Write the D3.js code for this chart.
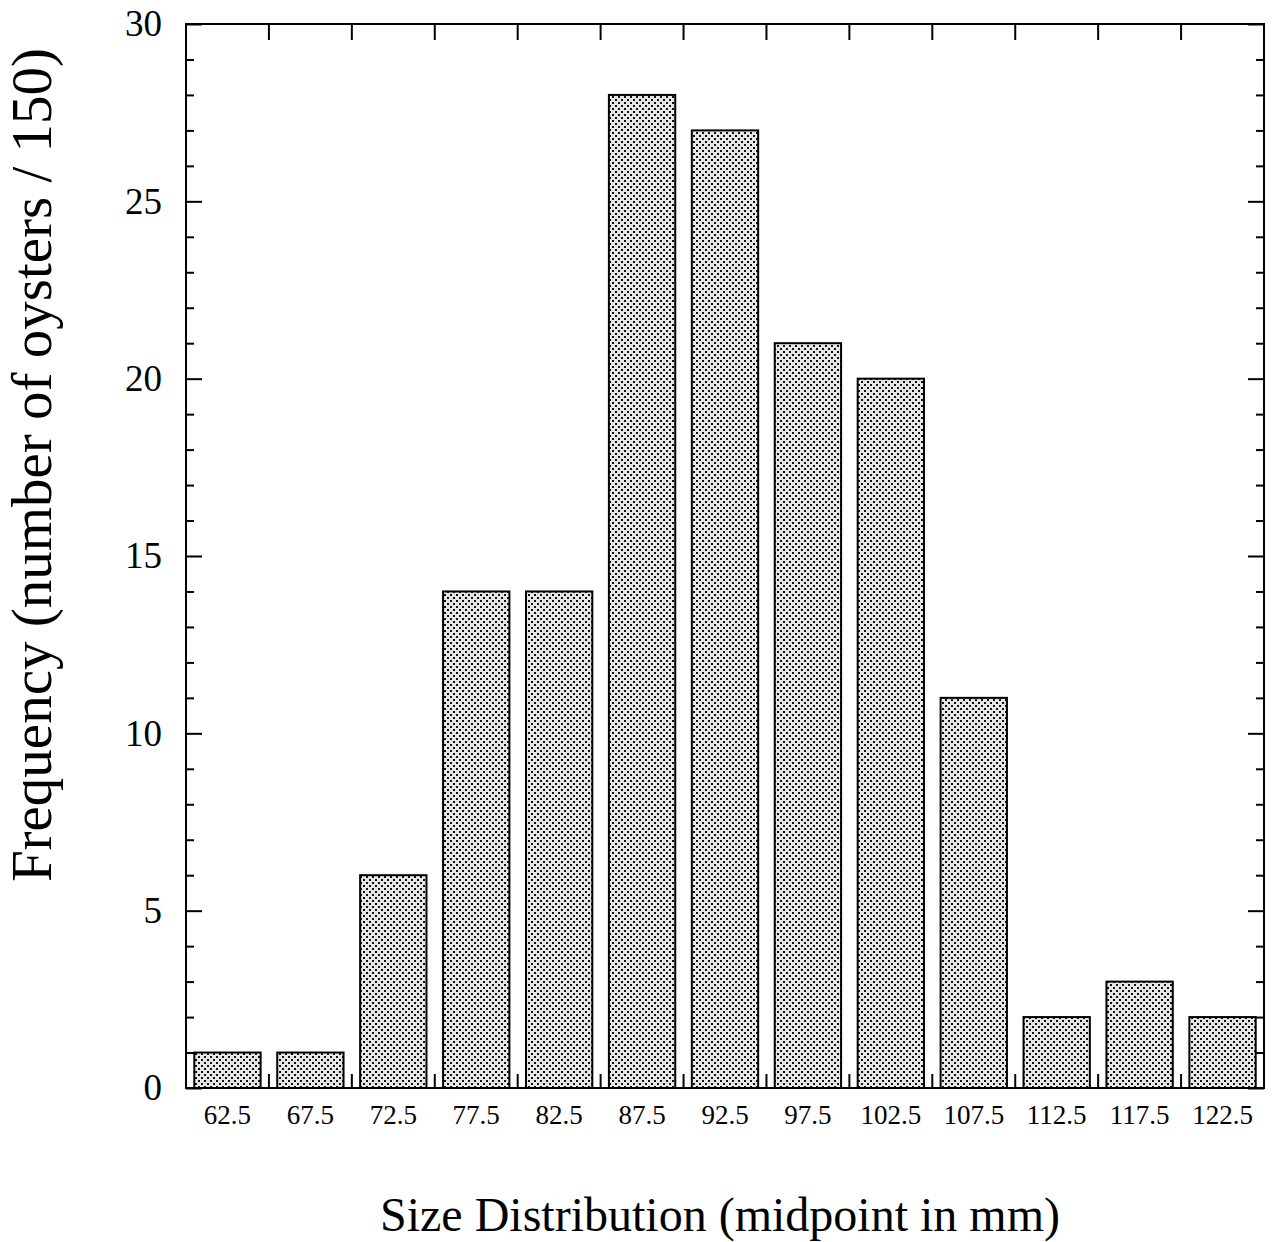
<!DOCTYPE html>
<html>
<head>
<meta charset="utf-8">
<script src="https://cdn.jsdelivr.net/npm/d3@7"></script>
<style>
  html, body { margin: 0; padding: 0; background: #fff; }
  svg { display: block; }
  text { font-family: "Liberation Serif", "Times New Roman", Times, serif; fill: #000; }
</style>
</head>
<body>
<svg id="chart" width="1276" height="1242"></svg>
<script>
const categories = ["62.5", "67.5", "72.5", "77.5", "82.5", "87.5", "92.5", "97.5", "102.5", "107.5", "112.5", "117.5", "122.5"];
const frequencies = [1, 1, 6, 14, 14, 28, 27, 21, 20, 11, 2, 3, 2];
const yMajorTicks = [0, 5, 10, 15, 20, 25, 30];
const xTitle = "Size Distribution (midpoint in mm)";
const yTitle = "Frequency (number of oysters / 150)";

const W = 1276, H = 1242;
const margin = { left: 186, right: 12, top: 24, bottom: 154 };
const svg = d3.select("#chart");

const defs = svg.append("defs");
const pat = defs.append("pattern")
  .attr("id", "stipple")
  .attr("patternUnits", "userSpaceOnUse")
  .attr("width", 6).attr("height", 6);
pat.append("rect").attr("width", 6).attr("height", 6).attr("fill", "#e6e6e6");
pat.append("rect").attr("x", 0).attr("y", 0).attr("width", 2).attr("height", 2).attr("fill", "#111");
pat.append("rect").attr("x", 3).attr("y", 3).attr("width", 2).attr("height", 2).attr("fill", "#111");

const x = d3.scaleBand()
  .domain(categories)
  .range([margin.left, W - margin.right])
  .paddingInner(0.2)
  .paddingOuter(0.1);

const y = d3.scaleLinear()
  .domain([0, 30])
  .range([H - margin.bottom, margin.top]);

const x0 = margin.left, x1 = W - margin.right;
const y0 = H - margin.bottom, y1 = margin.top;

// bars
svg.append("g").selectAll("rect")
  .data(categories.map((c, i) => ({ c, v: frequencies[i] })))
  .join("rect")
  .attr("x", d => x(d.c))
  .attr("y", d => y(d.v))
  .attr("width", x.bandwidth())
  .attr("height", d => y(0) - y(d.v))
  .attr("fill", "url(#stipple)")
  .attr("stroke", "#000")
  .attr("stroke-width", 2);

// category boundary positions
const step = x.step();
const boundaries = categories.slice(1).map(c => x(c) - step * x.paddingInner() / 2);

// bottom boundary ticks (pointing up)
svg.append("g").selectAll("line.bt")
  .data(boundaries).join("line")
  .attr("x1", d => d).attr("x2", d => d)
  .attr("y1", y0).attr("y2", y0 - 14)
  .attr("stroke", "#000").attr("stroke-width", 2);

// top boundary ticks (pointing down)
svg.append("g").selectAll("line.tt")
  .data(boundaries).join("line")
  .attr("x1", d => d).attr("x2", d => d)
  .attr("y1", y1).attr("y2", y1 + 16)
  .attr("stroke", "#000").attr("stroke-width", 2);

// x axis labels
const xAxis = d3.axisBottom(x).tickSize(0).tickPadding(17);
const gx = svg.append("g").attr("transform", `translate(0,${y0})`).call(xAxis);
gx.select(".domain").remove();
gx.selectAll("text").style("font-size", "27px").style("font-family", "'Liberation Serif', 'Times New Roman', serif");

// y axis left: major
const minorVals = d3.range(0, 31).filter(v => v % 5 !== 0);
const yLeft = d3.axisLeft(y).tickValues(yMajorTicks).tickSize(-16).tickPadding(24).tickFormat(d3.format("d"));
const gyl = svg.append("g").attr("transform", `translate(${x0},0)`).call(yLeft);
gyl.select(".domain").remove();
gyl.selectAll("line").attr("stroke-width", 2);
gyl.selectAll("text").style("font-size", "37px").style("font-family", "'Liberation Serif', 'Times New Roman', serif");

const yLeftMinor = d3.axisLeft(y).tickValues(minorVals).tickSize(-8).tickFormat("");
const gylm = svg.append("g").attr("transform", `translate(${x0},0)`).call(yLeftMinor);
gylm.select(".domain").remove();
gylm.selectAll("line").attr("stroke-width", 2);

// y axis right
const yRight = d3.axisRight(y).tickValues(yMajorTicks).tickSize(-16).tickFormat("");
const gyr = svg.append("g").attr("transform", `translate(${x1},0)`).call(yRight);
gyr.select(".domain").remove();
gyr.selectAll("line").attr("stroke-width", 2);

const yRightMinor = d3.axisRight(y).tickValues(minorVals).tickSize(-8).tickFormat("");
const gyrm = svg.append("g").attr("transform", `translate(${x1},0)`).call(yRightMinor);
gyrm.select(".domain").remove();
gyrm.selectAll("line").attr("stroke-width", 2);

// frame
svg.append("rect")
  .attr("x", x0).attr("y", y1)
  .attr("width", x1 - x0).attr("height", y0 - y1)
  .attr("fill", "none").attr("stroke", "#000").attr("stroke-width", 2);

// titles
svg.append("text")
  .attr("x", (x0 + x1) / 2 - 5)
  .attr("y", 1231)
  .attr("text-anchor", "middle")
  .style("font-size", "48px")
  .text(xTitle);

svg.append("text")
  .attr("transform", `translate(51,${(y0 + y1) / 2 - 91}) rotate(-90)`)
  .attr("text-anchor", "middle")
  .style("font-size", "57px")
  .text(yTitle);
</script>
</body>
</html>
